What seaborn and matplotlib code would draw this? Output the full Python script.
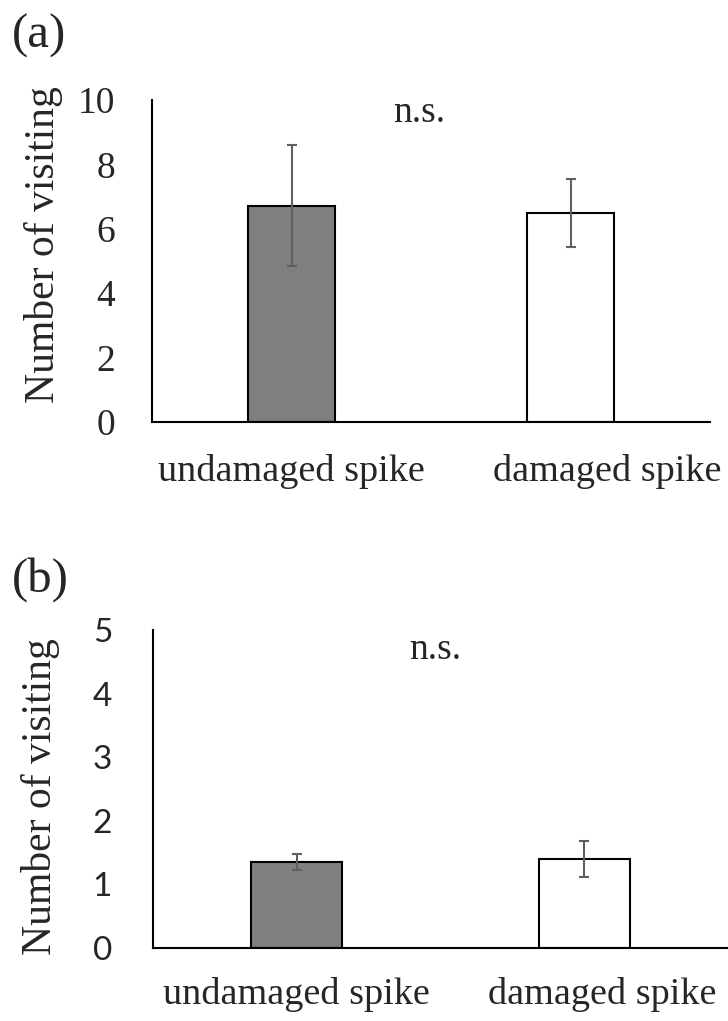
import matplotlib
matplotlib.use("Agg")
import matplotlib.pyplot as plt
import matplotlib.transforms as mtransforms
import pandas as pd
import seaborn as sns

# Visit counts per spike type (mean and standard error)
categories = ["undamaged spike", "damaged spike"]
visits_a = [6.71, 6.48]
se_a = [1.88, 1.06]
visits_b = [1.35, 1.40]
se_b = [0.13, 0.28]
yticks_a = [0, 2, 4, 6, 8, 10]
yticks_b = [0, 1, 2, 3, 4, 5]

sns.set_style("white")
plt.rcParams["font.family"] = ["Liberation Serif", "DejaVu Serif"]

fig = plt.figure(figsize=(7.28, 10.21), dpi=100)
W, H = 728.0, 1021.0

def axes_px(left, right, top, bottom):
    return fig.add_axes([left / W, 1 - bottom / H, (right - left) / W, (bottom - top) / H])

ax_a = axes_px(152, 710, 100, 422)
ax_b = axes_px(153, 728, 630, 948)

bar_colors = ["#7f7f7f", "#ffffff"]

def panel(ax, values, errors, yticks, tick_font, tick_size, tick_pad,
          label_y, ns_xy, second_shift, cat_pad):
    df = pd.DataFrame({"spike": categories, "visits": values})
    sns.barplot(data=df, x="spike", y="visits", hue="spike", palette=bar_colors,
                width=0.315, edgecolor="black", linewidth=1.5, legend=False,
                errorbar=None, ax=ax)
    ax.errorbar(range(len(values)), values, yerr=errors, fmt="none",
                ecolor="#606060", elinewidth=1.5, capsize=3.3, capthick=1.5,
                zorder=5)
    ax.set_xlim(-0.5, 1.5)
    ax.set_ylim(yticks[0], yticks[-1])
    ax.set_yticks(yticks)
    ax.set_yticklabels([str(t) for t in yticks], family=tick_font, fontsize=tick_size)
    ax.tick_params(axis="y", direction="in", length=9.4, width=1.4,
                   color="black", pad=tick_pad)
    ax.tick_params(axis="x", length=0, pad=cat_pad, labelsize=27.5)
    ax.set_xlabel("")
    ax.set_ylabel("Number of visiting", fontsize=30)
    ax.yaxis.set_label_coords(-0.195, label_y)
    ax.yaxis.label.set(ha="center", va="center")
    for side in ("top", "right"):
        ax.spines[side].set_visible(False)
    for side in ("left", "bottom"):
        ax.spines[side].set_color("black")
        ax.spines[side].set_linewidth(1.5)
    ax.spines["bottom"].set_zorder(6)
    ax.text(ns_xy[0], ns_xy[1], "n.s.", fontsize=27, ha="center", va="baseline")
    # The right-hand category label is nudged to stay inside the figure
    lbl = ax.get_xticklabels()[1]
    lbl.set_transform(lbl.get_transform() +
                      mtransforms.ScaledTranslation(second_shift / 100, 0,
                                                    fig.dpi_scale_trans))

panel(ax_a, visits_a, se_a, yticks_a, ["Liberation Serif"], 27, 26.6,
      0.55, (0.458, 9.32), 37, 23)
panel(ax_b, visits_b, se_b, yticks_b, ["Lato"], 24, 29.5,
      0.475, (0.48, 4.55), 18, 21)

fig.text(12 / W, 1 - 14 / H, "(a)", fontsize=35, ha="left", va="top")
fig.text(12 / W, 1 - 557 / H, "(b)", fontsize=35, ha="left", va="top")

fig.savefig("out.png", dpi=100)
